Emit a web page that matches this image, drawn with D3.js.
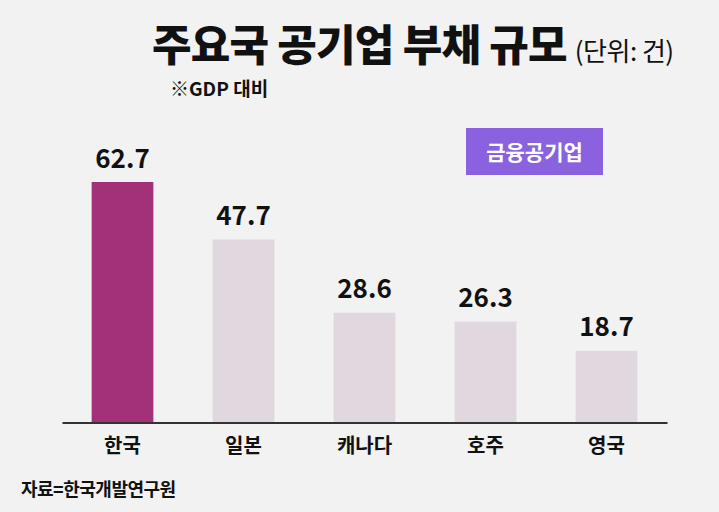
<!DOCTYPE html>
<html>
<head>
<meta charset="utf-8">
<script src="https://cdn.jsdelivr.net/npm/d3@7"></script>
<style>
  html, body { margin: 0; padding: 0; background: #F2F2F2; }
  svg { display: block; }
  text { font-family: "Noto Sans CJK KR", "Noto Sans", sans-serif; }
</style>
</head>
<body>
<svg id="chart" width="719" height="512"></svg>
<script>
const categories = ["한국", "일본", "캐나다", "호주", "영국"];
const values = [62.7, 47.7, 28.6, 26.3, 18.7];
const valueLabels = ["62.7", "47.7", "28.6", "26.3", "18.7"];
const highlight = ["한국"];
const titleText = "주요국 공기업 부채 규모";
const unitText = "(단위: 건)";
const subtitleText = "※GDP 대비";
const legendText = "금융공기업";
const sourceText = "자료=한국개발연구원";

const svg = d3.select("#chart");
svg.append("rect").attr("width", 719).attr("height", 512).attr("fill", "#F2F2F2");

const baseY = 422.5;
const x = d3.scaleBand().domain(categories).range([62, 667]).paddingInner(0.49).paddingOuter(0.245);
const y = d3.scaleLinear().domain([0, 62.7]).range([baseY, 182]);

// bars
svg.append("g").selectAll("rect").data(categories).join("rect")
  .attr("x", d => x(d))
  .attr("y", (d, i) => y(values[i]))
  .attr("width", x.bandwidth())
  .attr("height", (d, i) => baseY - y(values[i]))
  .attr("fill", d => highlight.includes(d) ? "#A2317A" : "#E0D7DF");

// value labels
svg.append("g").selectAll("text").data(categories).join("text")
  .attr("x", d => x(d) + x.bandwidth() / 2)
  .attr("y", (d, i) => y(values[i]) - 14.5)
  .attr("text-anchor", "middle")
  .attr("font-size", 26)
  .attr("font-weight", 700)
  .attr("fill", "#111")
  .text((d, i) => valueLabels[i]);

// axis
const axis = d3.axisBottom(x).tickSize(0).tickPadding(16);
const gAxis = svg.append("g").attr("transform", `translate(0,${baseY})`).call(axis);
gAxis.select(".domain").attr("stroke", "#333").attr("stroke-width", 2.2);
gAxis.selectAll(".tick text")
  .attr("font-family", '"Noto Sans CJK KR", sans-serif')
  .attr("font-size", 20)
  .attr("font-weight", 700)
  .attr("fill", "#111");

// title
const title = svg.append("text")
  .attr("x", 152)
  .attr("y", 61)
  .attr("fill", "#111");
title.append("tspan")
  .attr("font-size", 43)
  .attr("font-weight", 900)
  .attr("letter-spacing", -0.8)
  .text(titleText);
title.append("tspan")
  .attr("dx", 8)
  .attr("font-size", 26)
  .attr("font-weight", 400)
  .attr("letter-spacing", -0.5)
  .text(unitText);

svg.append("text")
  .attr("x", 170)
  .attr("y", 96)
  .attr("font-size", 19)
  .attr("font-weight", 700)
  .attr("fill", "#111")
  .text(subtitleText);

// legend
svg.append("rect")
  .attr("x", 466).attr("y", 128).attr("width", 137).attr("height", 47)
  .attr("fill", "#8A62E0");
svg.append("text")
  .attr("x", 534.5).attr("y", 160)
  .attr("text-anchor", "middle")
  .attr("font-size", 21)
  .attr("font-weight", 700)
  .attr("fill", "#fff")
  .text(legendText);

// source
svg.append("text")
  .attr("x", 21)
  .attr("y", 496)
  .attr("font-size", 18)
  .attr("font-weight", 700)
  .attr("fill", "#111")
  .attr("letter-spacing", -0.5)
  .text(sourceText);
</script>
</body>
</html>
